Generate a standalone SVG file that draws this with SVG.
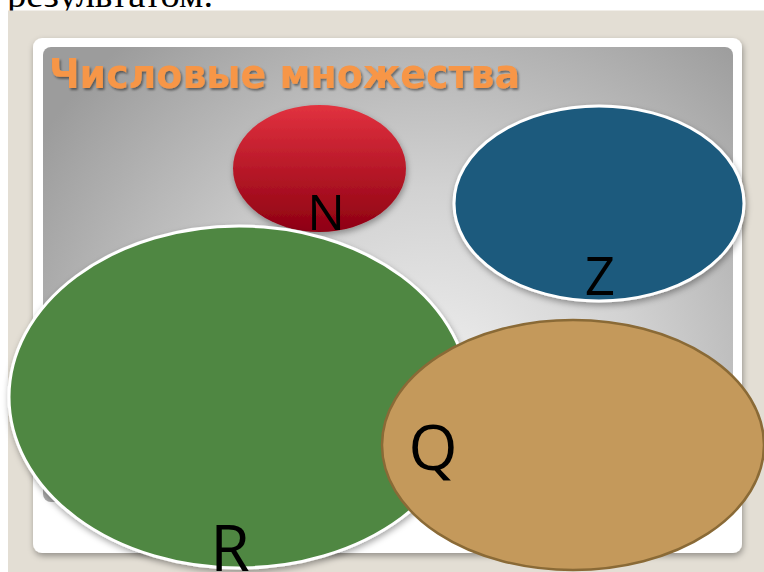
<svg xmlns="http://www.w3.org/2000/svg" width="764" height="572" viewBox="0 0 764 572">
  <defs>
    <radialGradient id="panelGrad" cx="430" cy="400" r="470" gradientUnits="userSpaceOnUse">
      <stop offset="0" stop-color="#f2f2f2"/>
      <stop offset="0.45" stop-color="#d2d2d2"/>
      <stop offset="1" stop-color="#9c9c9c"/>
    </radialGradient>
    <linearGradient id="redGrad" x1="0" y1="0" x2="0" y2="1">
      <stop offset="0" stop-color="#e2323f"/>
      <stop offset="1" stop-color="#8e0012"/>
    </linearGradient>
    <filter id="shadow" x="-20%" y="-20%" width="140%" height="140%">
      <feDropShadow dx="1" dy="3" stdDeviation="3" flood-color="#000" flood-opacity="0.35"/>
    </filter>
    <filter id="titleShadow" x="-5%" y="-20%" width="110%" height="150%">
      <feDropShadow dx="1.5" dy="2" stdDeviation="1.2" flood-color="#000" flood-opacity="0.45"/>
    </filter>
    <clipPath id="topClip"><rect x="0" y="0" width="764" height="11"/></clipPath>
  </defs>
  <style>
    .lbl { font-family: "Open Sans", "Liberation Sans", sans-serif; fill: #000; text-anchor: middle; }
    .title { font-family: "DejaVu Sans", "Liberation Sans", sans-serif; font-weight: bold; fill: #f79646; }
    .whiteEdge { stroke: #ffffff; stroke-width: 3; }
  </style>

  <rect x="0" y="0" width="764" height="572" fill="#ffffff"/>
  <text x="7" y="7" clip-path="url(#topClip)" font-family="'Liberation Serif', 'Times New Roman', serif" font-size="36" fill="#000" textLength="206" lengthAdjust="spacingAndGlyphs">результатом.</text>
  <rect x="8" y="10.5" width="756" height="561.5" fill="#e3ded4"/>

  <g id="slide">
    <rect x="33" y="38" width="709" height="515" rx="9" fill="#ffffff" filter="url(#shadow)"/>
    <rect x="43" y="47" width="690" height="455" rx="8" fill="url(#panelGrad)"/>
    <text class="title" x="49" y="88" font-size="41" textLength="471" lengthAdjust="spacingAndGlyphs" filter="url(#titleShadow)">Числовые множества</text>
  </g>

  <g id="node-N">
    <ellipse cx="319.5" cy="168.5" rx="86.5" ry="63.5" fill="url(#redGrad)" filter="url(#shadow)"/>
    <text class="lbl" x="326" y="230" font-size="50">N</text>
  </g>

  <g id="node-Z">
    <ellipse cx="599" cy="203.5" rx="145" ry="97.5" fill="#1d5a7d" class="whiteEdge" filter="url(#shadow)"/>
    <text class="lbl" x="600" y="295" font-size="53">Z</text>
  </g>

  <g id="node-R">
    <ellipse cx="239" cy="397" rx="230" ry="171" fill="#4f8742" class="whiteEdge" filter="url(#shadow)"/>
    <text class="lbl" x="230" y="571" font-size="64">R</text>
  </g>

  <g id="node-Q">
    <ellipse cx="573" cy="445" rx="191" ry="125" fill="#c4995b" stroke="#8a6a36" stroke-width="2.5"/>
    <text class="lbl" x="433" y="470" font-size="63">Q</text>
  </g>

  <g id="connectors"></g>
</svg>
